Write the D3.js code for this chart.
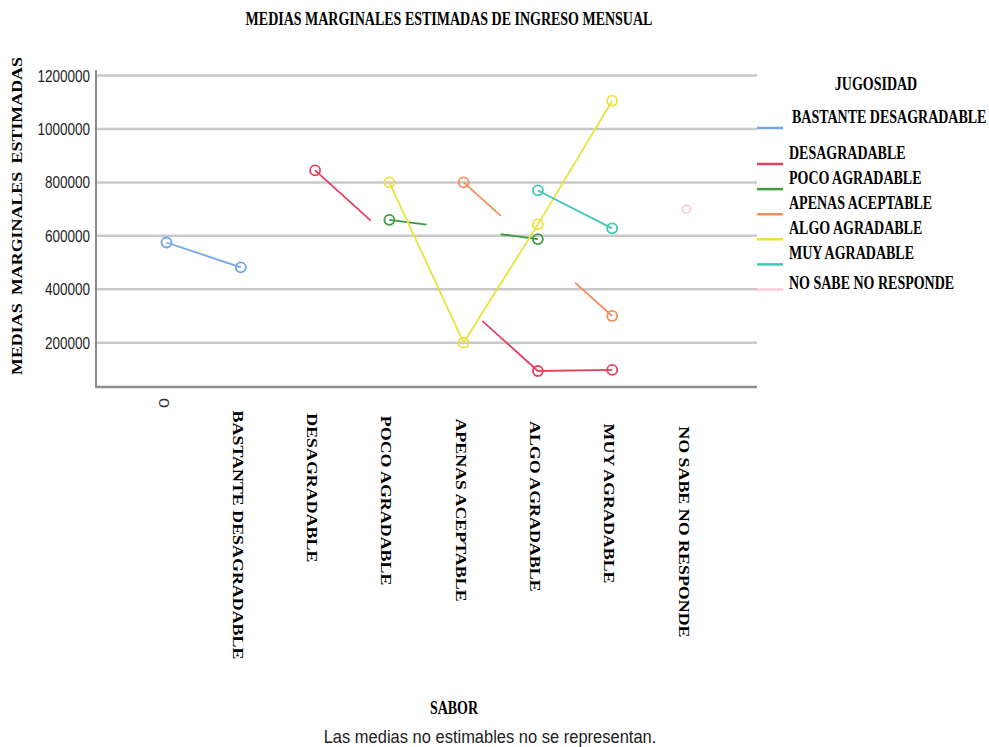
<!DOCTYPE html>
<html>
<head>
<meta charset="utf-8">
<script src="https://cdn.jsdelivr.net/npm/d3@7"></script>
<style>
  html, body { margin: 0; padding: 0; background: #ffffff; }
  svg { display: block; }
</style>
</head>
<body>
<svg id="chart" width="989" height="747"></svg>
<script>
// ---------- data ----------
const categories = ["0", "BASTANTE DESAGRADABLE", "DESAGRADABLE", "POCO AGRADABLE",
  "APENAS ACEPTABLE", "ALGO AGRADABLE", "MUY AGRADABLE", "NO SABE NO RESPONDE"];
const seriesNames = ["BASTANTE DESAGRADABLE", "DESAGRADABLE", "POCO AGRADABLE",
  "APENAS ACEPTABLE", "ALGO AGRADABLE", "MUY AGRADABLE", "NO SABE NO RESPONDE"];
const bastanteDesagradable = [575000, 482000, null, null, null, null, null, null];
const desagradable        = [null, null, 845000, null, null, 94000, 98000, null];
const pocoAgradable       = [null, null, null, 660000, null, 588000, null, null];
const apenasAceptable     = [null, null, null, null, 800000, null, 300000, null];
const algoAgradable       = [null, null, null, 800000, 200000, 643000, 1106000, null];
const muyAgradable        = [null, null, null, null, null, 770000, 628000, null];
const noSabeNoResponde    = [null, null, null, null, null, null, null, 700000];
const yTicks = [200000, 400000, 600000, 800000, 1000000, 1200000];
const seriesColors = ["#72a5ec", "#e4405f", "#3e9a3e", "#f98b5d", "#eae23c", "#3ec8b7", "#fbc8dc"];

const seriesValues = [bastanteDesagradable, desagradable, pocoAgradable, apenasAceptable,
  algoAgradable, muyAgradable, noSabeNoResponde];

// ---------- layout ----------
const svg = d3.select("#chart");
const pLeft = 96, pRight = 757, pTop = 70, pBottom = 387;
const serif = "'Liberation Serif', 'Times New Roman', serif";
const sans = "'Liberation Sans', Arial, sans-serif";
const vs = 1.28; // vertical stretch of the original picture

const x = d3.scalePoint().domain(categories).range([pLeft, pRight]).padding(0.95);
const y = d3.scaleLinear().domain([34000, 1221000]).range([pBottom, pTop]);

// title
svg.append("text")
  .attr("transform", `translate(449,25) scale(1,${vs})`)
  .attr("text-anchor", "middle")
  .style("font-family", serif).style("font-weight", "bold").style("font-size", "14px")
  .text("MEDIAS MARGINALES ESTIMADAS DE INGRESO MENSUAL");

// gridlines
svg.append("g").selectAll("line").data(yTicks).join("line")
  .attr("x1", pLeft).attr("x2", pRight)
  .attr("y1", d => y(d)).attr("y2", d => y(d))
  .attr("stroke", "#c9c9c9").attr("stroke-width", 2.5);

// y axis
const yAxis = svg.append("g").attr("transform", `translate(${pLeft},0)`)
  .call(d3.axisLeft(y).tickValues(yTicks).tickSize(0).tickPadding(6).tickFormat(d3.format("d")));
yAxis.select(".domain").remove();
yAxis.selectAll("text")
  .attr("transform", `scale(1,${vs})`)
  .style("font-family", sans).style("font-size", "13.5px").attr("fill", "#222");

// axis lines
svg.append("line").attr("x1", pLeft).attr("x2", pLeft).attr("y1", pTop).attr("y2", pBottom)
  .attr("stroke", "#8c8c8c").attr("stroke-width", 2);
svg.append("line").attr("x1", pLeft - 1).attr("x2", pRight).attr("y1", pBottom).attr("y2", pBottom)
  .attr("stroke", "#8c8c8c").attr("stroke-width", 2.5);

// x category labels (rotated)
svg.append("g").selectAll("text").data(categories).join("text")
  .attr("transform", (d, i) => `translate(${x(d) - 3},${(i === 0 ? 398 : 408 + 2.6 * i)}) rotate(90) scale(${vs},1)`)
  .attr("dy", "0.35em")
  .attr("text-anchor", "start")
  .style("font-family", (d, i) => i === 0 ? sans : serif)
  .style("font-weight", (d, i) => i === 0 ? "normal" : "bold")
  .style("font-size", "14px")
  .attr("fill", (d, i) => i === 0 ? "#333" : "#000")
  .text(d => d);

// y axis title
svg.append("text")
  .attr("transform", `translate(17,216) rotate(-90) scale(${vs},1)`)
  .attr("dy", "0.35em")
  .attr("text-anchor", "middle")
  .style("font-family", serif).style("font-weight", "bold").style("font-size", "14px")
  .style("word-spacing", "3px")
  .text("MEDIAS MARGINALES ESTIMADAS");

// series lines (gaps where intermediate categories are non-estimable)
const gLines = svg.append("g");
seriesValues.forEach((vals, s) => {
  const pts = vals.map((v, i) => v == null ? null : { i, px: x(categories[i]), py: y(v) }).filter(p => p);
  for (let k = 0; k < pts.length - 1; k++) {
    const a = pts[k], b = pts[k + 1];
    const segs = (b.i - a.i === 1) ? [[a, b]] :
      [[a, { px: a.px + 0.25 * (b.px - a.px), py: a.py + 0.25 * (b.py - a.py) }],
       [{ px: b.px - 0.25 * (b.px - a.px), py: b.py - 0.25 * (b.py - a.py) }, b]];
    segs.forEach(([p, q]) => {
      gLines.append("line")
        .attr("x1", p.px).attr("y1", p.py).attr("x2", q.px).attr("y2", q.py)
        .attr("stroke", seriesColors[s]).attr("stroke-width", 1.8);
    });
  }
  gLines.append("g").selectAll("circle").data(pts).join("circle")
    .attr("cx", d => d.px).attr("cy", d => d.py)
    .attr("r", s === 6 ? 4 : 5)
    .attr("fill", "none")
    .attr("stroke", seriesColors[s]).attr("stroke-width", 1.8);
});

// legend
svg.append("text")
  .attr("transform", `translate(876,90) scale(1,${vs})`)
  .attr("text-anchor", "middle")
  .style("font-family", serif).style("font-weight", "bold").style("font-size", "14px")
  .text("JUGOSIDAD");
const legY = i => i === 0 ? 128 : 164 + 25.1 * (i - 1);
const leg = svg.append("g").selectAll("g").data(seriesNames).join("g")
  .attr("transform", (d, i) => `translate(0,${legY(i)})`);
leg.append("line").attr("x1", 757).attr("x2", 783).attr("y1", 0).attr("y2", 0)
  .attr("stroke", (d, i) => seriesColors[i]).attr("stroke-width", 2.5);
leg.append("text")
  .attr("transform", (d, i) => `translate(${i === 0 ? 792 : 789},${i === 6 ? -1 : -5}) scale(1,${vs})`)
  .style("font-family", serif).style("font-weight", "bold").style("font-size", "14px")
  .text(d => d);

// x axis title and footnote
svg.append("text")
  .attr("transform", `translate(454,714) scale(1,${vs})`)
  .attr("text-anchor", "middle")
  .style("font-family", serif).style("font-weight", "bold").style("font-size", "14px")
  .text("SABOR");
svg.append("text")
  .attr("transform", `translate(490,743) scale(1,1.12)`)
  .attr("text-anchor", "middle")
  .style("font-family", sans).style("font-size", "16.5px").attr("fill", "#222")
  .text("Las medias no estimables no se representan.");
</script>
</body>
</html>
